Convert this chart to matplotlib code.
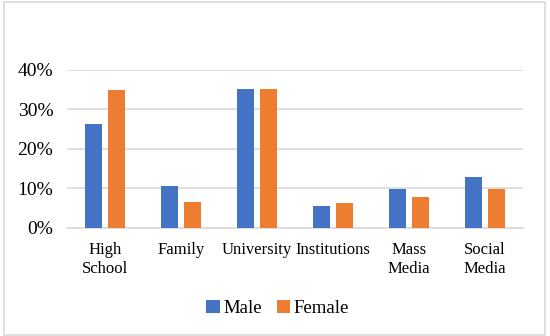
import matplotlib.pyplot as plt
from matplotlib.patches import Rectangle
from matplotlib.ticker import PercentFormatter
import numpy as np

categories = ["High\nSchool", "Family", "University", "Institutions", "Mass\nMedia", "Social\nMedia"]
male = [26.4, 10.5, 35.1, 5.5, 9.9, 12.9]
female = [34.8, 6.6, 35.1, 6.3, 7.8, 9.7]
yticks = [0, 10, 20, 30, 40]

BLUE = "#4472C4"
ORANGE = "#ED7D31"
GRID = "#D9D9D9"

plt.rcParams['font.family'] = ['Liberation Serif', 'DejaVu Serif']

fig = plt.figure(figsize=(5.5, 3.36), dpi=100)
ax = fig.add_axes([0.122, 0.3223, 0.829, 0.4694])

x = np.arange(len(categories))
w = 0.23
ax.bar(x - 0.15, male, w, color=BLUE, label="Male", zorder=3)
ax.bar(x + 0.15, female, w, color=ORANGE, label="Female", zorder=3)

ax.set_xlim(-0.5, len(categories) - 0.5)
ax.set_ylim(0, 40)
ax.set_yticks(yticks)
ax.yaxis.set_major_formatter(PercentFormatter(decimals=0))
ax.set_xticks(x)
ax.set_xticklabels(categories, fontsize=12, linespacing=1.3)
ax.tick_params(axis='y', labelsize=14, length=0, pad=10)
ax.tick_params(axis='x', length=0, pad=10)
ax.yaxis.grid(True, color=GRID, linewidth=1.2, zorder=0)
for s in ["top", "right", "left"]:
    ax.spines[s].set_visible(False)
ax.spines["bottom"].set_color(GRID)
ax.spines["bottom"].set_linewidth(1.2)

fig.legend(loc="center", bbox_to_anchor=(0.505, 0.083), ncol=2, frameon=False,
           fontsize=13.5, handlelength=0.7, handleheight=0.7, handletextpad=0.2,
           columnspacing=0.8)

fig.patches.append(Rectangle((0.007, 0.004), 0.983, 0.99, transform=fig.transFigure,
                             fill=False, edgecolor=GRID, linewidth=1.2))

fig.savefig("out.png", dpi=100)
